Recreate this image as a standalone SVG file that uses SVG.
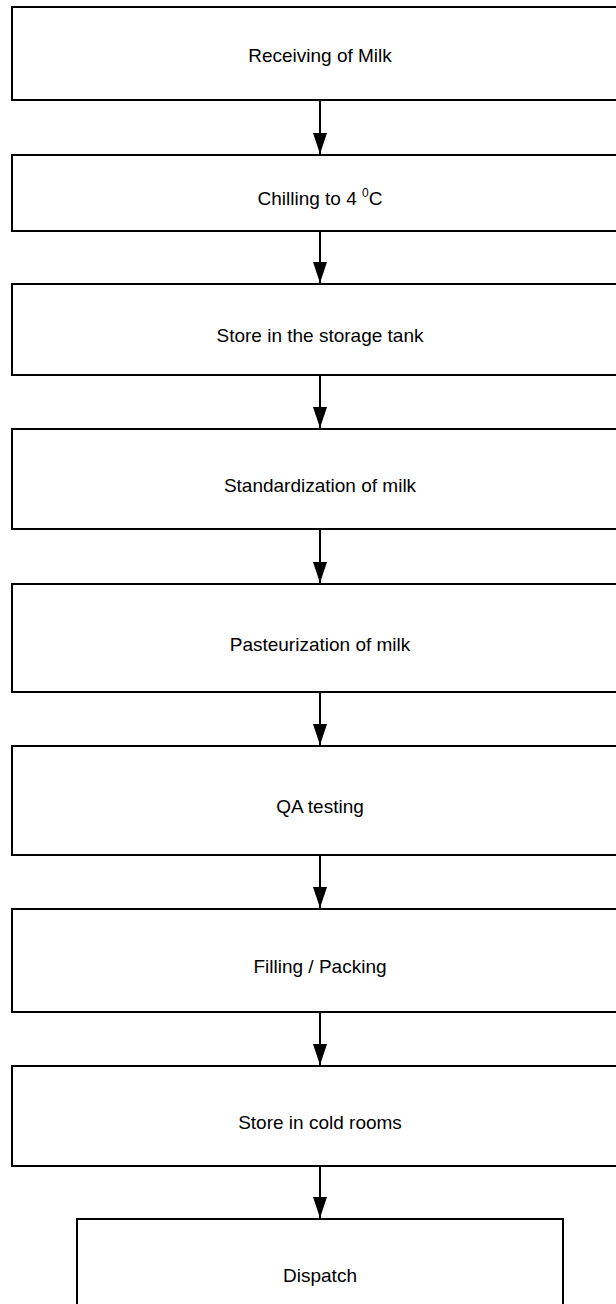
<svg xmlns="http://www.w3.org/2000/svg" width="616" height="1304" viewBox="0 0 616 1304">
  <style>
    .box { fill: #ffffff; stroke: #000000; stroke-width: 2; }
    .lbl { font-family: "Liberation Sans", Arial, sans-serif; font-size: 19px; fill: #000000; text-anchor: middle; }
    .sup { font-size: 12px; }
    .link { stroke: #000000; stroke-width: 2; fill: none; marker-end: url(#arrow); }
  </style>
  <defs>
    <marker id="arrow" markerWidth="22" markerHeight="16" refX="21" refY="8" orient="auto" markerUnits="userSpaceOnUse">
      <path d="M0,1 L21,8 L0,15 Z" fill="#000000"/>
    </marker>
  </defs>
  <rect width="616" height="1304" fill="#ffffff"/>

  <!-- process steps, top to bottom -->
  <g id="receiving">
    <rect class="box" x="12" y="7" width="620" height="93"/>
    <text class="lbl" x="320" y="62">Receiving of Milk</text>
  </g>
  <g id="chilling">
    <rect class="box" x="12" y="155" width="620" height="76"/>
    <text class="lbl" x="320" y="205">Chilling to 4 <tspan class="sup" dy="-8">0</tspan><tspan dy="8">C</tspan></text>
  </g>
  <g id="storage-tank">
    <rect class="box" x="12" y="284" width="620" height="91"/>
    <text class="lbl" x="320" y="342">Store in the storage tank</text>
  </g>
  <g id="standardization">
    <rect class="box" x="12" y="429" width="620" height="100"/>
    <text class="lbl" x="320" y="492">Standardization of milk</text>
  </g>
  <g id="pasteurization">
    <rect class="box" x="12" y="584" width="620" height="108"/>
    <text class="lbl" x="320" y="651">Pasteurization of milk</text>
  </g>
  <g id="qa-testing">
    <rect class="box" x="12" y="746" width="620" height="109"/>
    <text class="lbl" x="320" y="813">QA testing</text>
  </g>
  <g id="filling">
    <rect class="box" x="12" y="909" width="620" height="103"/>
    <text class="lbl" x="320" y="973">Filling / Packing</text>
  </g>
  <g id="cold-rooms">
    <rect class="box" x="12" y="1066" width="620" height="100"/>
    <text class="lbl" x="320" y="1129">Store in cold rooms</text>
  </g>
  <g id="dispatch">
    <rect class="box" x="77" y="1219" width="486" height="100"/>
    <text class="lbl" x="320" y="1282">Dispatch</text>
  </g>

  <!-- downward arrows between steps -->
  <g id="connectors">
    <line class="link" x1="320" y1="100" x2="320" y2="154"/>
    <line class="link" x1="320" y1="231" x2="320" y2="283"/>
    <line class="link" x1="320" y1="375" x2="320" y2="428"/>
    <line class="link" x1="320" y1="529" x2="320" y2="583"/>
    <line class="link" x1="320" y1="692" x2="320" y2="745"/>
    <line class="link" x1="320" y1="855" x2="320" y2="908"/>
    <line class="link" x1="320" y1="1012" x2="320" y2="1065"/>
    <line class="link" x1="320" y1="1166" x2="320" y2="1218"/>
  </g>
</svg>
